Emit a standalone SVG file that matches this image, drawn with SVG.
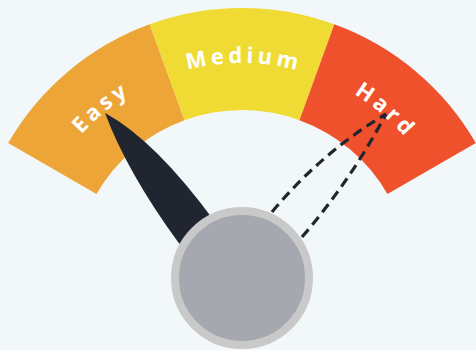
<svg xmlns="http://www.w3.org/2000/svg" width="476" height="350" viewBox="0 0 476 350">
  <defs>
    <style>
      .lbl { font-family: "Open Sans", "Liberation Sans", sans-serif; font-weight: 700; font-size: 22px; fill: #ffffff; letter-spacing: 4px; }
      .dash { fill: none; stroke: #20252f; stroke-width: 3.2; stroke-dasharray: 10 6; stroke-linecap: butt; }
    </style>
    <path id="textArc" d="M 54.9 171 A 216 216 0 0 1 429.1 171"/>
  </defs>
  <rect x="0" y="0" width="476" height="350" fill="#f2f7fa"/>
  <g id="easy">
    <path d="M 8.17 143 A 270 270 0 0 1 149.66 24.28 L 184.54 120.13 A 168 168 0 0 0 96.51 194 Z" fill="#eea537"/>
    <text class="lbl"><textPath href="#textArc" startOffset="77.5" text-anchor="middle">Easy</textPath></text>
  </g>
  <g id="medium">
    <path d="M 149.66 24.28 A 270 270 0 0 1 334.34 24.28 L 299.46 120.13 A 168 168 0 0 0 184.54 120.13 Z" fill="#efdb34"/>
    <text class="lbl"><textPath href="#textArc" startOffset="228" text-anchor="middle">Medium</textPath></text>
  </g>
  <g id="hard">
    <path d="M 334.34 24.28 A 270 270 0 0 1 475.83 143 L 387.49 194 A 168 168 0 0 0 299.46 120.13 Z" fill="#ef512d"/>
    <text class="lbl"><textPath href="#textArc" startOffset="378.5" text-anchor="middle">Hard</textPath></text>
  </g>
  <g id="connectors">
    <path id="needle" d="M 105 113 Q 155 140 215 222 L 245 265 L 205 272 L 178 242 Q 127 172 105 113 Z" fill="#20252f"/>
    <path class="dash" d="M 272 212 Q 322 152 386 114"/>
    <path class="dash" d="M 302 237 Q 351 180 386 114"/>
  </g>
  <g id="hub">
    <circle cx="242" cy="278" r="67" fill="#a6a8b0" stroke="#c9c9c9" stroke-width="8"/>
  </g>
</svg>
